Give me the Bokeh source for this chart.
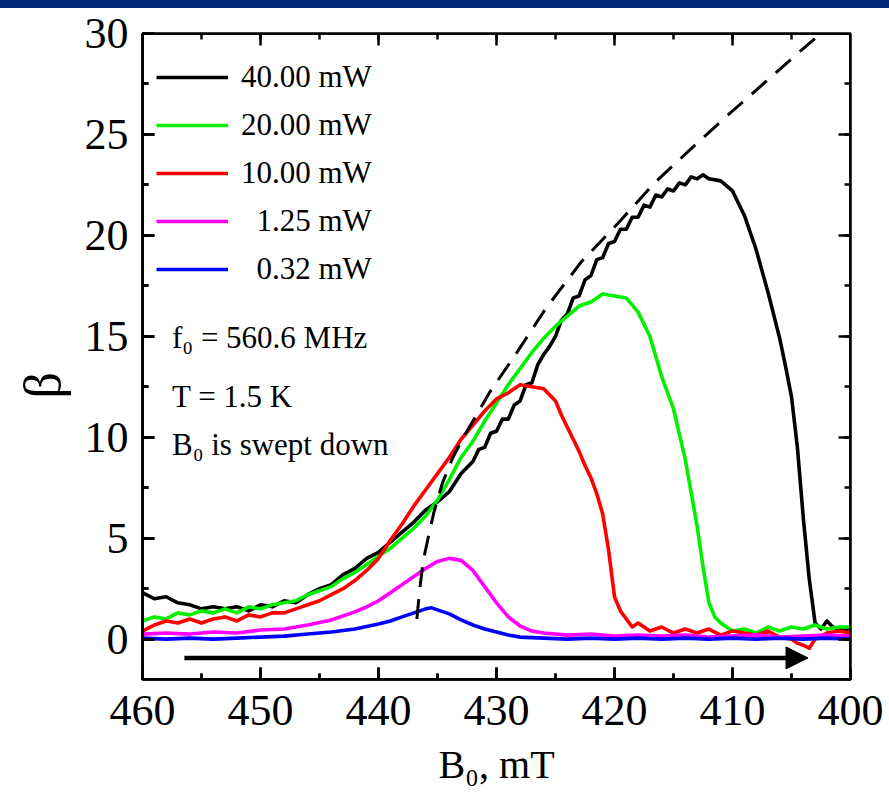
from bokeh.plotting import figure
from bokeh.models import (Range1d, SingleIntervalTicker, LinearAxis, Legend, LegendItem,
                          Label, Arrow, NormalHead, Div, CustomJSTickFormatter, Title)
from bokeh.layouts import column
from bokeh.embed import file_html
from bokeh.resources import INLINE

FONT = "Liberation Serif"

# ---------------- data ----------------
B_40 = [460, 459, 458, 457, 456, 455, 454, 453, 452, 451,
        450, 449, 448, 447, 446, 445, 444, 443, 442, 441,
        440, 439, 438, 437, 436, 435, 434, 433,
        432, 431.5, 431, 430.5, 430, 429.5, 429, 428.5, 428, 427.5, 427,
        426.5, 426, 425.5, 425, 424.5, 424, 423.5, 423, 422.5, 422,
        421.5, 421, 420.5, 420, 419.5, 419, 418.5, 418, 417.5, 417,
        416.5, 416, 415.5, 415, 414.5, 414, 413.5, 413, 412.5, 412,
        411, 410, 409, 408, 407, 406, 405.5, 405, 404.5, 404,
        403.5, 403, 402.5, 402, 401.5, 401, 400.5, 400]
beta_40 = [2.3, 2.0, 2.1, 1.8, 1.7, 1.5, 1.6, 1.5, 1.6, 1.4,
           1.7, 1.6, 1.9, 1.8, 2.2, 2.5, 2.7, 3.2, 3.5, 4.0,
           4.3, 4.8, 5.3, 5.8, 6.4, 6.8, 7.3, 8.2,
           8.8, 9.4, 9.5, 10.2, 10.3, 10.9, 10.9, 11.6, 11.8, 12.6, 12.7,
           13.6, 14.1, 14.5, 15.0, 15.8, 16.1, 16.9, 17.0, 17.8, 18.0,
           18.8, 18.9, 19.6, 19.7, 20.3, 20.3, 20.9, 20.9, 21.5, 21.4,
           22.0, 21.9, 22.3, 22.2, 22.6, 22.5, 22.9, 22.8, 23.0, 22.8,
           22.7, 22.2, 21.0, 19.3, 17.2, 14.9, 13.5, 12.0, 9.5, 6.0,
           3.0, 0.8, 0.5, 0.9, 0.6, 0.5, 0.4, 0.6]

B_20 = [460, 459, 458, 457, 456, 455, 454, 453, 452, 451,
        450, 449, 448, 447, 446, 445, 444, 443, 442, 441,
        440, 439, 438, 437, 436, 435, 434, 433, 432, 431,
        430, 429, 428, 427, 426, 425, 424, 423, 422, 421,
        420, 419, 418, 417, 416, 415, 414, 413, 412.5, 412,
        411.5, 411, 410, 409, 408, 407, 406, 405, 404, 403,
        402, 401, 400]
beta_20 = [0.9, 1.1, 1.0, 1.3, 1.2, 1.4, 1.3, 1.5, 1.3, 1.6,
           1.5, 1.7, 1.8, 1.9, 2.2, 2.4, 2.6, 3.0, 3.3, 3.7,
           4.1, 4.5, 5.0, 5.5, 6.1, 6.9, 7.9, 9.0, 9.8, 10.8,
           11.7, 12.6, 13.4, 14.2, 14.9, 15.5, 16.0, 16.5, 16.7, 17.1,
           17.0, 16.9, 16.2, 15.0, 13.0, 11.4, 8.9, 5.6, 3.6, 1.8,
           1.1, 0.8, 0.4, 0.5, 0.3, 0.6, 0.4, 0.6, 0.5, 0.7,
           0.5, 0.6, 0.6]

B_10 = [460, 459, 458, 457, 456, 455, 454, 453, 452, 451,
        450, 449, 448, 447, 446, 445, 444, 443, 442, 441,
        440, 439, 438, 437, 436, 435, 434, 433, 432, 431,
        430, 429, 428, 427, 426, 425,
        424.5, 424, 423.5, 423, 422.5, 422, 421.5, 421, 420.5, 420,
        419.5, 419, 418.5, 418,
        417, 416, 415, 414, 413, 412, 411, 410, 409, 408, 407, 406, 405,
        404.5, 404, 403.5, 403,
        402, 401, 400]
beta_10 = [0.4, 0.7, 0.9, 0.8, 1.0, 0.8, 1.0, 1.1, 0.9, 1.2,
           1.1, 1.3, 1.3, 1.5, 1.7, 1.9, 2.2, 2.5, 2.9, 3.4,
           4.0, 4.9, 5.7, 6.6, 7.4, 8.2, 9.0, 9.9, 10.6, 11.3,
           11.9, 12.2, 12.6, 12.5, 12.4, 11.8,
           11.1, 10.5, 9.9, 9.3, 8.6, 8.0, 7.2, 6.2, 4.4, 2.1,
           1.4, 1.0, 0.6, 0.8,
           0.4, 0.6, 0.3, 0.5, 0.3, 0.5, 0.2, 0.4, 0.3, 0.2, 0.4, 0.1, 0.0,
           -0.2, -0.3, -0.45, 0.0,
           0.3, 0.4, 0.3]

B_125 = [460, 458, 456, 454, 452, 450, 448, 446, 444, 442,
         441, 440, 439, 438, 437, 436, 435, 434, 433, 432, 431, 430, 429, 428, 427, 426,
         424, 422, 420, 418, 416, 414, 412, 410, 408, 406, 404, 402, 400]
beta_125 = [0.25, 0.3, 0.25, 0.35, 0.3, 0.45, 0.5, 0.7, 0.95, 1.35,
            1.6, 1.9, 2.3, 2.7, 3.1, 3.5, 3.85, 4.0, 3.9, 3.4, 2.6, 1.8, 1.1, 0.65, 0.4, 0.3,
            0.2, 0.25, 0.15, 0.2, 0.15, 0.2, 0.1, 0.15, 0.2, 0.1, 0.15, 0.2, 0.15]

B_032 = [460, 458, 456, 454, 452, 450, 448, 446, 444, 442, 440,
         439, 438, 437, 436, 435.5, 435, 434, 433, 432, 431, 430, 429, 428,
         426, 424, 422, 420, 418, 416, 414, 412, 410, 408, 406, 404, 402, 400]
beta_032 = [0.05, 0.0, 0.05, 0.0, 0.05, 0.1, 0.15, 0.25, 0.35, 0.5, 0.75,
            0.9, 1.1, 1.3, 1.5, 1.55, 1.45, 1.25, 0.95, 0.7, 0.5, 0.35, 0.2, 0.1,
            0.05, 0.0, 0.05, 0.0, 0.05, 0.0, 0.05, 0.0, 0.05, 0.0, 0.05, 0.0, 0.05, 0.0]

B_theory = [436.75, 436.5, 436.2, 435.8, 435.3, 434.6, 433.7, 432.7, 431.6, 430.5,
            428.5, 425.8, 422.8, 419.7, 416.6, 413.5, 410.5, 407.4, 404.5, 402.7]
beta_theory = [1.0, 2.5, 3.9, 5.0, 6.3, 7.7, 9.0, 10.1, 11.2, 12.3,
               14.0, 16.4, 18.7, 20.6, 22.6, 24.3, 25.9, 27.5, 29.0, 29.9]

series_labels = ["40.00 mW", "20.00 mW", "10.00 mW", "\u20071.25 mW", "\u20070.32 mW"]
series_colors = ["#000000", "#00f000", "#ff0000", "#ff00ff", "#0000ff"]

sweep_B = [456.45, 403.6]
sweep_beta = -0.93

info_lines = ["f\u2080 = 560.6 MHz", "T = 1.5 K", "B\u2080 is swept down"]
info_beta = [14.95, 12.0, 9.65]
info_B = 457.5

X0, X1 = 460, 400
Y0, Y1 = -2.0, 30

# ---------------- figure ----------------
p = figure(width=889, height=796, output_backend="svg", toolbar_location=None,
           x_range=Range1d(X0, X1), y_range=Range1d(Y0, Y1),
           min_border_left=142, min_border_right=39, min_border_top=25, min_border_bottom=125,
           background_fill_color=None, border_fill_color="white")
p.margin = (0, 0, 0, 0)
p.xgrid.visible = False
p.ygrid.visible = False
p.outline_line_color = "black"
p.outline_line_width = 2.5

bottom_ax = p.below[0]
left_ax = p.left[0]

xt = SingleIntervalTicker(interval=10, num_minor_ticks=2)
yt = SingleIntervalTicker(interval=5, num_minor_ticks=2)
bottom_ax.ticker = xt
left_ax.ticker = yt


def blank():
    return CustomJSTickFormatter(code="return ''")


# tick-only axes pinned to the frame edges so that the ticks point inwards
top_ax = LinearAxis(ticker=xt, formatter=blank(), fixed_location=Y1, major_label_standoff=0)
right_ax = LinearAxis(ticker=yt, formatter=blank(), fixed_location=X1, major_label_standoff=0)
bottom_ticks = LinearAxis(ticker=xt, formatter=blank(), fixed_location=Y0, major_label_standoff=0)
left_ticks = LinearAxis(ticker=yt, formatter=blank(), fixed_location=X0, major_label_standoff=0)
p.add_layout(top_ax, "above")
p.add_layout(right_ax, "right")
p.add_layout(bottom_ticks, "below")
p.add_layout(left_ticks, "left")

for ax in [bottom_ax, left_ax, top_ax, right_ax, bottom_ticks, left_ticks]:
    ax.axis_line_width = 2.5
    ax.axis_line_color = "black"
    ax.major_tick_line_width = 2.5
    ax.minor_tick_line_width = 2.5
    ax.major_tick_line_color = "black"
    ax.minor_tick_line_color = "black"
    ax.major_tick_in = 12
    ax.major_tick_out = 0
    ax.minor_tick_in = 6
    ax.minor_tick_out = 0
    ax.major_label_text_font = FONT
    ax.major_label_text_font_size = "44px"
    ax.major_label_text_color = "black"
    ax.axis_label_text_font = FONT
    ax.axis_label_text_font_style = "normal"
    ax.axis_label_text_color = "black"

bottom_ax.major_label_standoff = 16
left_ax.major_label_standoff = 14
bottom_ax.axis_label = "B\u2080, mT"
bottom_ax.axis_label_text_font_size = "40px"
bottom_ax.axis_label_standoff = 14

p.add_layout(Title(text="\u03b2", text_font=FONT, text_font_size="52px", text_font_style="normal",
                   text_color="black", align="left", offset=281, standoff=22), "left")

# curves (draw order: black at the bottom, blue on top)
xs = [B_40, B_20, B_10, B_125, B_032]
ys = [beta_40, beta_20, beta_10, beta_125, beta_032]
renderers = []
for bx, by, c in zip(xs, ys, series_colors):
    r = p.line(bx, by, line_color=c, line_width=3.6, line_join="round")
    renderers.append(r)

p.line(B_theory, beta_theory, line_color="black", line_width=3, line_dash="20 12")

p.add_layout(Arrow(end=NormalHead(size=22, fill_color="black", line_color="black"),
                   x_start=sweep_B[0], y_start=sweep_beta, x_end=sweep_B[1], y_end=sweep_beta,
                   line_width=4.5, line_color="black"))

for txt, yb in zip(info_lines, info_beta):
    p.add_layout(Label(x=info_B, y=yb, text=txt, text_font=FONT, text_font_size="31px",
                       text_baseline="alphabetic", text_align="left", text_color="black"))

legend = Legend(items=[LegendItem(label=l, renderers=[r]) for l, r in zip(series_labels, renderers)],
                location=(0, 372), margin=0, padding=14, spacing=0,
                glyph_width=72, glyph_height=48, label_height=48, label_standoff=13,
                label_text_font=FONT, label_text_font_size="31px", label_text_color="black",
                border_line_alpha=0, background_fill_alpha=0)
p.add_layout(legend)

header = Div(text="", width=889, height=8, margin=(0, 0, 0, 0),
             styles={"background-color": "#00297a", "width": "889px", "height": "8px"})

layout = column(header, p, spacing=0, margin=(0, 0, 0, 0))

open("out.html", "w").write(file_html(layout, INLINE))
